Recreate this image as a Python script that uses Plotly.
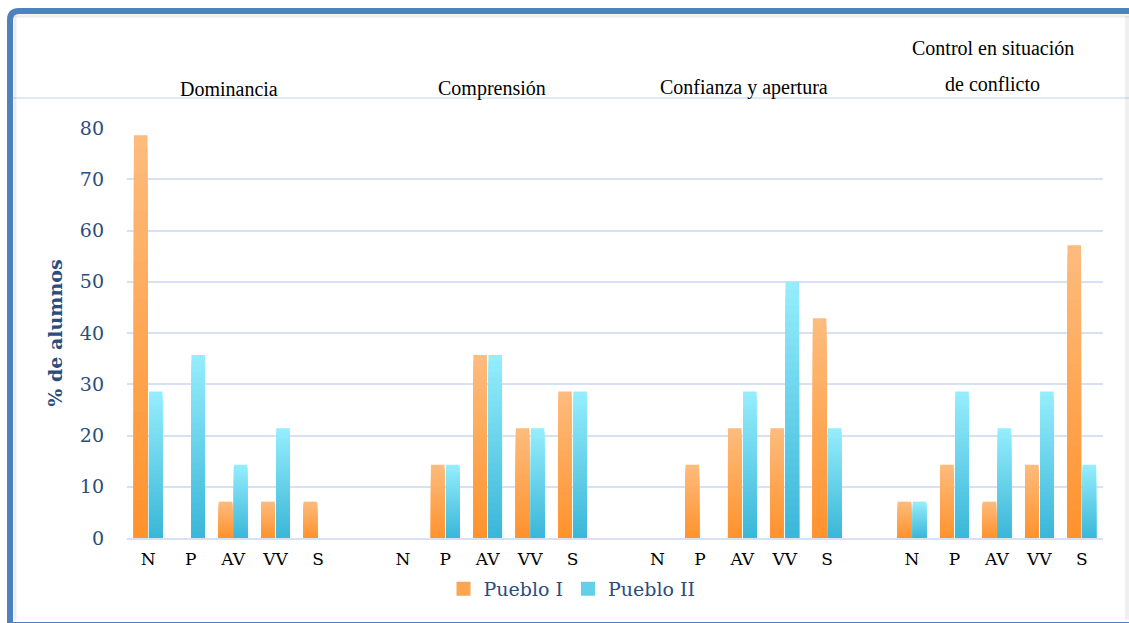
import plotly.graph_objects as go

# ---- data: % de alumnos por nivel (N, P, AV, VV, S) ----
niveles = ["N", "P", "AV", "VV", "S"]
grupos = ["Dominancia", "Comprensión", "Confianza y apertura", "Control en situación", "de conflicto"]

dominancia_p1 = [78.6, 0.0, 7.1, 7.1, 7.1]
dominancia_p2 = [28.6, 35.7, 14.3, 21.4, 0.0]
comprension_p1 = [0.0, 14.3, 35.7, 21.4, 28.6]
comprension_p2 = [0.0, 14.3, 35.7, 21.4, 28.6]
confianza_p1 = [0.0, 14.3, 21.4, 21.4, 42.9]
confianza_p2 = [0.0, 0.0, 28.6, 50.0, 21.4]
control_p1 = [7.1, 14.3, 7.1, 14.3, 57.1]
control_p2 = [7.1, 28.6, 21.4, 28.6, 14.3]

y_ticks = [0, 10, 20, 30, 40, 50, 60, 70, 80]

# ---- layout helpers ----
W, H = 1129, 623
PL, PR, PT, PB = 127, 1103, 128, 538  # plot area in pixels


def fx(px):
    return (px - PL) / (PR - PL)


def fy(py):
    return (PB - py) / (PB - PT)


# each block of five levels is followed by one empty slot
bloques = [
    (dominancia_p1, dominancia_p2),
    (comprension_p1, comprension_p2),
    (confianza_p1, confianza_p2),
    (control_p1, control_p2),
]
posiciones, serie_1, serie_2, etiquetas = [], [], [], []
for g, (a, b) in enumerate(bloques):
    for i, nivel in enumerate(niveles):
        posiciones.append(g * 6 + i)
        serie_1.append(a[i])
        serie_2.append(b[i])
        etiquetas.append(nivel)


def mezcla(c0, c1, t):
    return "rgb({},{},{})".format(*[round(c0[j] + (c1[j] - c0[j]) * t) for j in range(3)])


# bottom / top colours of the vertical gradient
naranja = ((255, 146, 44), (253, 188, 126))
cian = ((58, 182, 216), (150, 238, 253))

fig = go.Figure()
N_CAPAS = 32
for nombre, valores, (c_bajo, c_alto), grupo in [
    ("Pueblo I", serie_1, naranja, "p1"),
    ("Pueblo II", serie_2, cian, "p2"),
]:
    # full-height bar in the top colour first, then shorter and darker
    # bars overlaid on it, so each band shows one step of the gradient
    for k in reversed(range(N_CAPAS)):
        t = (k + 0.5) / N_CAPAS
        fig.add_trace(go.Bar(
            x=posiciones,
            y=[v * (k + 1) / N_CAPAS for v in valores],
            offsetgroup=grupo,
            name=nombre,
            showlegend=False,
            marker=dict(color=mezcla(c_bajo, c_alto, t), line=dict(width=0)),
            hoverinfo="skip",
        ))

# legend entries
for nombre, (c_bajo, c_alto) in [("Pueblo I", naranja), ("Pueblo II", cian)]:
    fig.add_trace(go.Scatter(
        x=[None], y=[None], mode="markers", name=nombre,
        marker=dict(symbol="square", size=14, color=mezcla(c_bajo, c_alto, 0.45),
                    line=dict(width=0)),
    ))

grid_col = "#D6E2F3"
fig.update_layout(
    width=W, height=H,
    margin=dict(l=PL, r=W - PR, t=PT, b=H - PB, autoexpand=False),
    paper_bgcolor="white",
    plot_bgcolor="white",
    barmode="group",
    bargap=0.29,
    bargroupgap=0.1,
    showlegend=True,
    legend=dict(
        orientation="h",
        x=fx(572), xanchor="center",
        y=fy(589), yanchor="middle",
        font=dict(family="DejaVu Serif", size=19, color="#2A4D7E"),
        traceorder="normal",
        itemclick=False,
        itemwidth=30,
        tracegroupgap=0,
    ),
    xaxis=dict(
        range=[-0.5, 22.5],
        tickmode="array",
        tickvals=posiciones,
        ticktext=etiquetas,
        tickfont=dict(family="DejaVu Serif", size=17, color="black"),
        showgrid=False,
        zeroline=False,
        showline=True,
        linecolor=grid_col,
        linewidth=2,
        ticks="",
        ticklabelstandoff=5,
    ),
    yaxis=dict(
        range=[0, 80],
        tickmode="array",
        tickvals=y_ticks,
        showgrid=True,
        gridcolor=grid_col,
        gridwidth=2,
        zeroline=False,
        showline=False,
        ticks="",
        ticklabelstandoff=22,
        tickfont=dict(family="DejaVu Serif", size=19, color="#2A4D7E"),
        title=dict(
            text="<b>% de alumnos</b>",
            font=dict(family="DejaVu Serif", size=19, color="#2A4D7E"),
            standoff=12,
        ),
    ),
)

# block titles above each group of bars
titulo_font = dict(family="Liberation Serif", size=20, color="black")
centros = [2, 8, 14, 20]
fig.add_annotation(text=grupos[0], x=centros[0] - 0.1, xref="x", y=fy(89), yref="paper",
                   showarrow=False, font=titulo_font, yanchor="middle")
fig.add_annotation(text=grupos[1], x=centros[1] + 0.1, xref="x", y=fy(89), yref="paper",
                   showarrow=False, font=titulo_font, yanchor="middle")
fig.add_annotation(text=grupos[2], x=centros[2] + 0.05, xref="x", y=fy(88), yref="paper",
                   showarrow=False, font=titulo_font, yanchor="middle")
fig.add_annotation(text=grupos[3], x=centros[3] - 0.1, xref="x", y=fy(48), yref="paper",
                   showarrow=False, font=titulo_font, yanchor="middle")
fig.add_annotation(text=grupos[4], x=centros[3] - 0.1, xref="x", y=fy(84), yref="paper",
                   showarrow=False, font=titulo_font, yanchor="middle")

# thin rule under the titles
fig.add_shape(type="line", xref="paper", yref="paper",
              x0=fx(13), x1=fx(1129), y0=fy(98), y1=fy(98),
              line=dict(color=grid_col, width=1.5), layer="below")

# soft inner shadow of the frame
fig.add_shape(type="line", xref="paper", yref="paper",
              x0=fx(15), x1=fx(15), y0=fy(16), y1=fy(620),
              line=dict(color="rgba(0,0,0,0.07)", width=3))
fig.add_shape(type="line", xref="paper", yref="paper",
              x0=fx(15), x1=fx(1129), y0=fy(16), y1=fy(16),
              line=dict(color="rgba(0,0,0,0.07)", width=3))
fig.add_shape(type="line", xref="paper", yref="paper",
              x0=fx(1127), x1=fx(1127), y0=fy(16), y1=fy(620),
              line=dict(color="rgba(0,0,0,0.06)", width=4))

# blue frame with rounded top-left corner
path = "M {x0},{ya} Q {x0},{y0} {xb},{y0} L {x1},{y0} L {x1},{y1} L {x0},{y1} Z".format(
    x0=fx(10), y0=fy(11), x1=fx(1140), y1=fy(625), ya=fy(20), xb=fx(19))
fig.add_shape(type="path", xref="paper", yref="paper", path=path,
              line=dict(color="#4F81BD", width=6), fillcolor="rgba(0,0,0,0)")

fig.write_html("out.html")
